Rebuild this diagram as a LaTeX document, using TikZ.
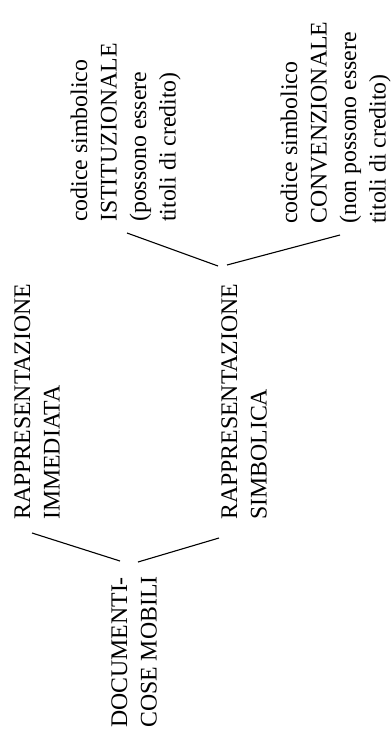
\documentclass[tikz,border=0pt]{standalone}
\usepackage{fontspec}
\setmainfont{Liberation Serif}
\begin{document}
\begin{tikzpicture}[x=1pt,y=-1pt,
  blk/.style={rotate=90,anchor=base west,inner sep=0pt,
    font=\fontsize{23.8pt}{29.5pt}\selectfont},
  conn/.style={line width=1.1pt,black}]
\useasboundingbox (0,0) rectangle (391,736);
% text blocks (rotated, reading bottom to top)
\node[blk] (doc) at (127,728) {\begin{tabular}[t]{@{}l@{}}DOCUMENTI-\\COSE MOBILI\end{tabular}};
\node[blk] (imm) at (30,520) {\begin{tabular}[t]{@{}l@{}}RAPPRESENTAZIONE\\IMMEDIATA\end{tabular}};
\node[blk] (sim) at (237,520) {\begin{tabular}[t]{@{}l@{}}RAPPRESENTAZIONE\\SIMBOLICA\end{tabular}};
\node[blk] (ist) at (87,222) {\begin{tabular}[t]{@{}l@{}}codice simbolico\\ISTITUZIONALE\\(possono essere\\titoli di credito)\end{tabular}};
\node[blk] (con) at (297,224) {\begin{tabular}[t]{@{}l@{}}codice simbolico\\CONVENZIONALE\\(non possono essere\\titoli di credito)\end{tabular}};
% connector ends
\coordinate (docL) at (120,561);
\coordinate (docR) at (138,562);
\coordinate (immE) at (32,533);
\coordinate (simE) at (219,538);
\coordinate (simL) at (218,266);
\coordinate (simR) at (227,265);
\coordinate (istE) at (127,233);
\coordinate (conE) at (340,235);
\draw[conn] (docL) -- (immE);
\draw[conn] (docR) -- (simE);
\draw[conn] (simL) -- (istE);
\draw[conn] (simR) -- (conE);
\end{tikzpicture}
\end{document}
